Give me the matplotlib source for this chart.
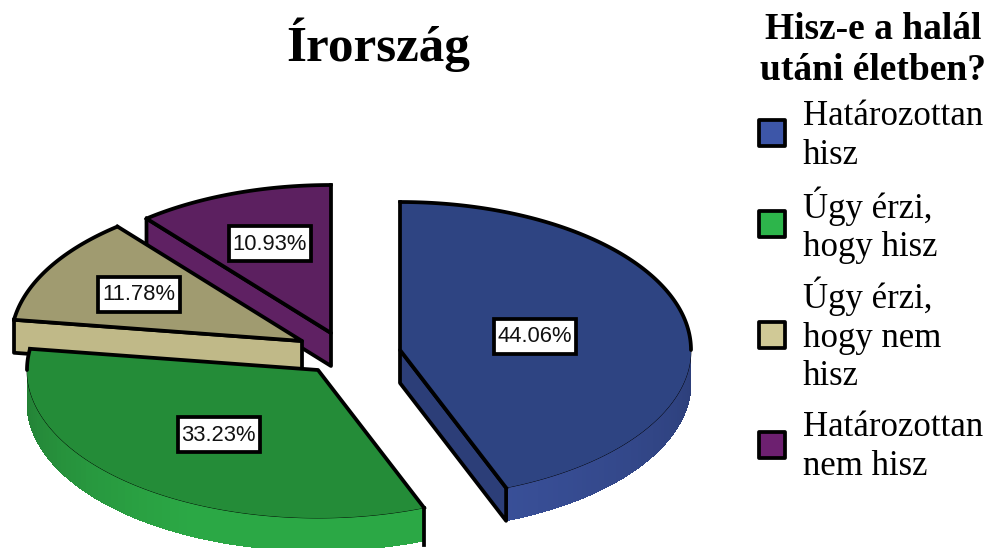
import numpy as np
import matplotlib
matplotlib.use("Agg")
import matplotlib.pyplot as plt
from matplotlib.patches import Rectangle

# data
title = "Írország"
legend_title = "Hisz-e a halál\nutáni életben?"
categories = ["Határozottan\nhisz", "Úgy érzi,\nhogy hisz", "Úgy érzi,\nhogy nem\nhisz", "Határozottan\nnem hisz"]
values = [44.06, 33.23, 11.78, 10.93]

# styles: one entry per slice
top_colors = ["#2e4482", "#248c38", "#a09b70", "#5c2060"]
side_light = ["#3a519b", "#2ba845", "#c0b988", "#5f2163"]
side_dark = ["#2c3e78", "#237f35", "#c0b988", "#5f2163"]
face_colors = ["#2c3e78", "#248c38", "#c0b988", "#5f2163"]
legend_colors = ["#3d56a8", "#2db54b", "#d0c996", "#6d2070"]
apex_x = [400, 318, 302, 331]
apex_y = [350, 370, 341, 333]
label_x = [535, 218.5, 139, 270]
label_y = [336, 434.5, 294, 243]
legend_y = [133, 224, 335, 445]
legend_text_y = [136, 225, 335, 447]

RX, RY, DEPTH = 291, 148, 33
THICK = 2.7


def rim(cx, cy, a0, a1, dz=0, n=120):
    th = np.radians(np.linspace(a0, a1, n))
    return cx + RX * np.sin(th), cy - RY * np.cos(th) + dz


fig = plt.figure(figsize=(9.91, 5.48), dpi=100)
ax = fig.add_axes([0, 0, 1, 1])
ax.set_xlim(0, 991)
ax.set_ylim(548, 0)
ax.axis("off")

edges = np.cumsum([0] + values) * 3.6
slice_z = [14, 10, 6, 2]


def draw_slice(i):
    cx, cy = apex_x[i], apex_y[i]
    a0, a1 = edges[i], edges[i + 1]
    z = slice_z[i]

    # curved outer wall, only the part that faces the viewer
    w0, w1 = max(a0, 90), min(a1, 270)
    if w0 < w1:
        steps = np.linspace(w0, w1, 61)
        c0 = np.array(matplotlib.colors.to_rgb(side_light[i]))
        c1 = np.array(matplotlib.colors.to_rgb(side_dark[i]))
        for s0, s1 in zip(steps[:-1], steps[1:]):
            # bright towards the viewer, darker near the sides
            t = min(abs(s0 - 165) / 75, 1) if i == 0 else min(max(0, s0 - 205) / 65, 1)
            shade = c0 + (c1 - c0) * t
            xa, ya = rim(cx, cy, s0, s1, 0, 4)
            xb, yb = rim(cx, cy, s0, s1, DEPTH, 4)
            # no antialiasing here, otherwise the seams between strips show
            ax.fill(np.r_[xa, xb[::-1]], np.r_[ya, yb[::-1]], facecolor=shade,
                    edgecolor="none", antialiased=False, zorder=z)
        xa, ya = rim(cx, cy, w0, w1)
        ax.plot(xa, ya, color="black", lw=0.6, zorder=z + 1)

    # flat cut face towards the viewer
    if i != 1:
        face = a1 if i == 0 else a0
        fx, fy = rim(cx, cy, face, face, 0, 1)
        ax.fill([cx, fx[0], fx[0], cx], [cy, fy[0], fy[0] + DEPTH, cy + DEPTH],
                facecolor=face_colors[i], edgecolor="black", lw=THICK,
                joinstyle="round", zorder=z + 1)

    # top surface
    x, y = rim(cx, cy, a0, a1)
    ax.fill(np.r_[cx, x], np.r_[cy, y], color=top_colors[i], lw=0, zorder=z + 2)

    # heavy outline: both radii and the back half of the rim
    x0, y0 = rim(cx, cy, a0, a0, 0, 1)
    x1, y1 = rim(cx, cy, a1, a1, 0, 1)
    ax.plot([x0[0], cx, x1[0]], [y0[0], cy, y1[0]], color="black", lw=THICK,
            solid_joinstyle="round", zorder=z + 3)
    for b0, b1 in [(a0, min(a1, 90)), (max(a0, 270), a1)]:
        if b0 < b1:
            bx, by = rim(cx, cy, b0, b1)
            ax.plot(bx, by, color="black", lw=THICK, solid_capstyle="round", zorder=z + 3)
    if i == 1:
        ax.plot([x0[0], x0[0]], [y0[0], y0[0] + DEPTH + 4], color="black", lw=THICK, zorder=z + 3)

    # value box
    ax.add_patch(Rectangle((label_x[i] - 41, label_y[i] - 17.5), 82, 35, facecolor="white",
                           edgecolor="black", lw=THICK, zorder=30))
    ax.text(label_x[i], label_y[i] + 1, f"{values[i]:.2f}%", family="Liberation Sans", fontsize=15.8,
            color="#111111", ha="center", va="center", zorder=31)


# back to front
for i in [3, 2, 1, 0]:
    draw_slice(i)

ax.text(378, 45, title, family="Liberation Serif", weight="bold", fontsize=36.8,
        ha="center", va="center", color="black")
ax.text(873, 50, legend_title, family="Liberation Serif", weight="bold", fontsize=27,
        ha="center", va="center", linespacing=1.22, color="black")

for name, color, ypos, ytext in zip(categories, legend_colors, legend_y, legend_text_y):
    ax.add_patch(Rectangle((759, ypos - 13), 26, 26, facecolor=color, edgecolor="black",
                           lw=THICK, joinstyle="round"))
    ax.text(803, ytext, name, family="Liberation Serif", fontsize=25, ha="left", va="center",
            linespacing=1.22, color="black")

fig.savefig("out.png", dpi=100)
